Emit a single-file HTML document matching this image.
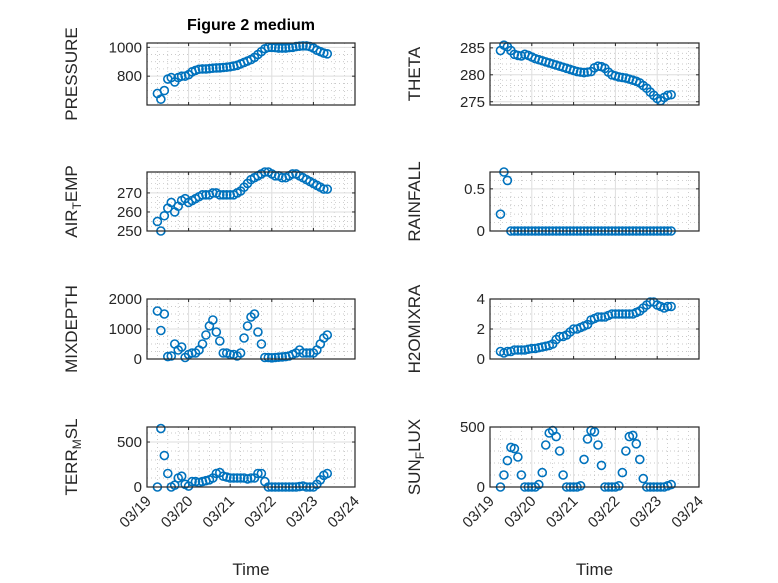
<!DOCTYPE html>
<html><head><meta charset="utf-8"><style>
body{margin:0;background:#fff}
svg{display:block;font-family:"Liberation Sans",sans-serif}
</style></head><body>
<svg id="fig" width="778" height="583" viewBox="0 0 778 583">
<rect width="778" height="583" fill="#fff"/>
<text x="251" y="30" text-anchor="middle" font-weight="bold" font-size="16" fill="#000">Figure 2 medium</text>
</svg>
<script>
const hours=[6,8,10,12,14,16,18,20,22,24,26,28,30,32,34,36,38,40,42,44,46,48,50,52,54,56,58,60,62,64,66,68,70,72,74,76,78,80,82,84,86,88,90,92,94,96,98,100,102,104];
const xTickLabels=["03/19","03/20","03/21","03/22","03/23","03/24"];
const pressure=[680,640,700,780,790,760,790,800,800,810,830,840,848,850,850,852,855,857,858,860,862,865,870,875,885,895,905,915,930,950,970,990,1000,1000,998,995,995,995,998,1000,1005,1008,1010,1010,1005,995,980,970,960,955];
const airTemp=[255,250,258,262,265,260,263,266,267,265,266,267,268,269,269,269,270,270,269,269,269,269,269,270,271,273,275,277,278,279,280,281,281,280,279,279,278,278,279,280,280,279,278,277,276,275,274,273,272,272];
const mixDepth=[1600,950,1500,80,100,500,300,400,50,150,200,200,300,500,800,1100,1300,900,600,200,200,150,150,100,200,700,1100,1400,1500,900,500,50,50,40,50,60,70,80,100,150,200,300,200,200,200,200,300,500,700,800];
const terrMsl=[0,650,350,150,0,20,100,120,30,10,60,60,50,60,70,80,100,150,160,120,110,100,100,100,100,100,90,100,100,150,150,60,0,0,0,0,0,0,0,0,0,5,10,0,0,0,30,80,130,150];
const theta=[284.5,285.5,285.2,284.5,283.8,283.6,283.5,283.8,283.6,283.3,283.0,282.8,282.6,282.4,282.2,282.0,281.8,281.6,281.4,281.2,281.0,280.8,280.6,280.5,280.4,280.5,280.6,281.3,281.6,281.5,281.2,280.5,280.0,279.8,279.6,279.5,279.4,279.2,279.0,278.8,278.5,278.0,277.5,276.8,276.2,275.6,275.2,275.8,276.2,276.3];
const rainfall=[0.2,0.7,0.6,0,0,0,0,0,0,0,0,0,0,0,0,0,0,0,0,0,0,0,0,0,0,0,0,0,0,0,0,0,0,0,0,0,0,0,0,0,0,0,0,0,0,0,0,0,0,0];
const h2oMix=[0.5,0.4,0.5,0.5,0.6,0.6,0.6,0.6,0.65,0.7,0.7,0.75,0.8,0.85,0.9,1.0,1.3,1.5,1.5,1.6,1.8,2.0,2.0,2.1,2.2,2.3,2.6,2.7,2.8,2.8,2.8,2.9,3.0,3.0,3.0,3.0,3.0,3.0,3.0,3.1,3.2,3.4,3.6,3.8,3.8,3.6,3.5,3.4,3.5,3.5];
const sunFlux=[0,100,220,330,320,250,100,0,0,0,0,20,120,350,450,470,420,300,100,0,0,0,0,10,230,400,470,460,350,180,0,0,0,0,10,120,300,420,430,360,230,70,0,0,0,0,0,0,10,20];

const NS="http://www.w3.org/2000/svg";
const svg=document.getElementById('fig');
function mk(tag,attrs,parent){const e=document.createElementNS(NS,tag);for(const k in attrs)e.setAttribute(k,attrs[k]);(parent||svg).appendChild(e);return e;}

const panels=[
 {name:"pressure",data:pressure,x0:147,x1:355,y0:43,y1:105,ymin:600,ymax:1030,ticks:[800,1000],minor:50,label:["PRESSURE"]},
 {name:"air-temp",data:airTemp,x0:147,x1:355,y0:172,y1:231,ymin:250,ymax:281,ticks:[250,260,270],minor:2.5,label:["AIR","T","EMP"]},
 {name:"mixdepth",data:mixDepth,x0:147,x1:355,y0:299,y1:359,ymin:0,ymax:2000,ticks:[0,1000,2000],minor:250,label:["MIXDEPTH"]},
 {name:"terr-msl",data:terrMsl,x0:147,x1:355,y0:427,y1:487,ymin:0,ymax:667,ticks:[0,500],minor:100,label:["TERR","M","SL"],xlab:true},
 {name:"theta",data:theta,x0:490,x1:699,y0:43,y1:105,ymin:274.4,ymax:285.9,ticks:[275,280,285],minor:1,label:["THETA"]},
 {name:"rainfall",data:rainfall,x0:490,x1:699,y0:172,y1:231,ymin:0,ymax:0.7,ticks:[0,0.5],minor:0.1,label:["RAINFALL"]},
 {name:"h2omixra",data:h2oMix,x0:490,x1:699,y0:299,y1:359,ymin:0,ymax:4,ticks:[0,2,4],minor:0.5,label:["H2OMIXRA"]},
 {name:"sun-flux",data:sunFlux,x0:490,x1:699,y0:427,y1:487,ymin:0,ymax:500,ticks:[0,500],minor:100,label:["SUN","F","LUX"],xlab:true}
];

panels.forEach(p=>{
 const g=mk('g',{});
 
 
 const days=xTickLabels.length-1;
 const xs=h=>p.x0+(h/24)/days*(p.x1-p.x0);
 const ys=v=>p.y1-(v-p.ymin)/(p.ymax-p.ymin)*(p.y1-p.y0);
 for(let d=0;d<days*4;d++){if(d%4===0)continue;const x=xs(d*6);
  mk('line',{x1:x,x2:x,y1:p.y0,y2:p.y1,stroke:'#b8b8b8','stroke-width':0.7,'stroke-dasharray':'1,3'},g);}
 const m0=Math.ceil(p.ymin/p.minor);
 for(let k=m0;k*p.minor<=p.ymax;k++){const v=k*p.minor;if(p.ticks.some(t=>Math.abs(t-v)<1e-9))continue;const y=ys(v);
  mk('line',{x1:p.x0,x2:p.x1,y1:y,y2:y,stroke:'#b8b8b8','stroke-width':0.7,'stroke-dasharray':'1,3'},g);}
 for(let d=1;d<days;d++){const x=xs(d*24);mk('line',{x1:x,x2:x,y1:p.y0,y2:p.y1,stroke:'#dedede','stroke-width':1},g);}
 p.ticks.forEach(t=>{const y=ys(t);mk('line',{x1:p.x0,x2:p.x1,y1:y,y2:y,stroke:'#dedede','stroke-width':1},g);
  const tl=mk('text',{x:p.x0-5,y:y+5,'text-anchor':'end','font-size':15,fill:'#262626'},g);tl.textContent=String(t);
  
  
  mk('line',{x1:p.x0,x2:p.x0+3,y1:y,y2:y,stroke:'#262626'},g);mk('line',{x1:p.x1,x2:p.x1-3,y1:y,y2:y,stroke:'#262626'},g);});
 for(let d=0;d<=days;d++){const x=xs(d*24);mk('line',{x1:x,x2:x,y1:p.y1,y2:p.y1-3,stroke:'#262626'},g);mk('line',{x1:x,x2:x,y1:p.y0,y2:p.y0+3,stroke:'#262626'},g);
  if(p.xlab){const tl=mk('text',{x:x+5,y:p.y1+15,'text-anchor':'end','font-size':15,fill:'#262626',transform:`rotate(-45 ${x+5} ${p.y1+15})`},g);tl.textContent=xTickLabels[d];
   
   }}
 p.data.forEach((v,i)=>{const c=mk('circle',{cx:xs(hours[i]),cy:ys(v),r:4,fill:'none',stroke:'#0072BD','stroke-width':1.6},g);
  
  });
 mk('rect',{x:p.x0,y:p.y0,width:p.x1-p.x0,height:p.y1-p.y0,fill:'none',stroke:'#262626','stroke-width':1.2},g);
 const lx=p.x0-70, ly=(p.y0+p.y1)/2;
 const yl=mk('text',{x:lx,y:ly,'text-anchor':'middle','font-size':17,fill:'#262626',transform:`rotate(-90 ${lx} ${ly})`},g);
 
 
 p.label.forEach((s,j)=>{const ts=mk('tspan',{},yl);ts.textContent=s;if(j===1){ts.setAttribute('font-size','12');ts.setAttribute('dy','4');}if(j===2){ts.setAttribute('dy','-4');}});
 if(p.xlab){const xt=mk('text',{x:(p.x0+p.x1)/2,y:575,'text-anchor':'middle','font-size':17,fill:'#262626'},g);xt.textContent='Time';
  
  }
});
</script>
</body></html>
